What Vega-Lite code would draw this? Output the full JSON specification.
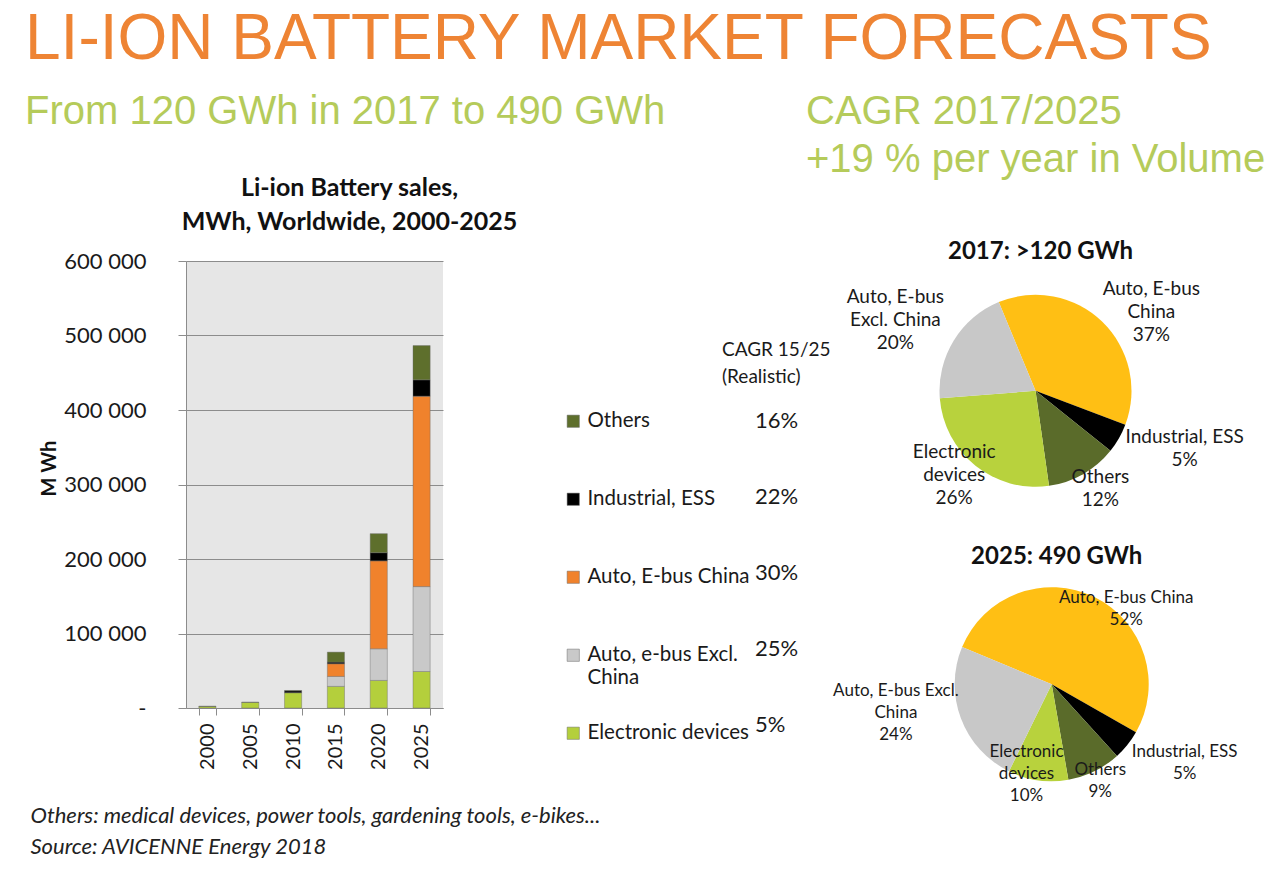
{
  "$schema": "https://vega.github.io/schema/vega-lite/v6.json",
  "background": "white",
  "padding": {"left": 25, "top": 8, "right": 5, "bottom": 5},
  "config": {
    "view": {"stroke": null},
    "font": "Lato",
    "axis": {"labelFont": "Lato", "titleFont": "Lato"},
    "legend": {"labelFont": "Lato", "titleFont": "Lato", "padding": 0}
  },
  "datasets": {
    "bars": [
      {"year": "2000", "category": "Electronic devices", "mwh": 2000, "k": 1},
      {"year": "2000", "category": "Others", "mwh": 500, "k": 5},
      {"year": "2005", "category": "Electronic devices", "mwh": 7500, "k": 1},
      {"year": "2005", "category": "Others", "mwh": 300, "k": 5},
      {"year": "2010", "category": "Electronic devices", "mwh": 20500, "k": 1},
      {"year": "2010", "category": "Industrial, ESS", "mwh": 2500, "k": 4},
      {"year": "2010", "category": "Others", "mwh": 500, "k": 5},
      {"year": "2015", "category": "Electronic devices", "mwh": 29000, "k": 1},
      {"year": "2015", "category": "Auto, e-bus Excl. China", "mwh": 13400, "k": 2},
      {"year": "2015", "category": "Auto, E-bus China", "mwh": 17000, "k": 3},
      {"year": "2015", "category": "Industrial, ESS", "mwh": 2200, "k": 4},
      {"year": "2015", "category": "Others", "mwh": 13400, "k": 5},
      {"year": "2020", "category": "Electronic devices", "mwh": 37000, "k": 1},
      {"year": "2020", "category": "Auto, e-bus Excl. China", "mwh": 42500, "k": 2},
      {"year": "2020", "category": "Auto, E-bus China", "mwh": 118000, "k": 3},
      {"year": "2020", "category": "Industrial, ESS", "mwh": 11000, "k": 4},
      {"year": "2020", "category": "Others", "mwh": 25500, "k": 5},
      {"year": "2025", "category": "Electronic devices", "mwh": 49000, "k": 1},
      {"year": "2025", "category": "Auto, e-bus Excl. China", "mwh": 114000, "k": 2},
      {"year": "2025", "category": "Auto, E-bus China", "mwh": 255500, "k": 3},
      {"year": "2025", "category": "Industrial, ESS", "mwh": 22000, "k": 4},
      {"year": "2025", "category": "Others", "mwh": 46000, "k": 5}
    ],
    "cagr": [
      {"category": "Others", "cagr": "16%"},
      {"category": "Industrial, ESS", "cagr": "22%"},
      {"category": "Auto, E-bus China", "cagr": "30%"},
      {"category": "Auto, e-bus Excl. China", "cagr": "25%"},
      {"category": "Electronic devices", "cagr": "5%"}
    ],
    "pie": [
      {"year": "2017", "category": "Auto, E-bus China", "pct": 37, "k": 1, "label": "Auto, E-bus\nChina\n37%"},
      {"year": "2017", "category": "Industrial, ESS", "pct": 5, "k": 2, "label": "Industrial, ESS\n5%"},
      {"year": "2017", "category": "Others", "pct": 12, "k": 3, "label": "Others\n12%"},
      {"year": "2017", "category": "Electronic devices", "pct": 26, "k": 4, "label": "Electronic\ndevices\n26%"},
      {"year": "2017", "category": "Auto, E-bus Excl. China", "pct": 20, "k": 5, "label": "Auto, E-bus\nExcl. China\n20%"},
      {"year": "2025", "category": "Auto, E-bus China", "pct": 52, "k": 1, "label": "Auto, E-bus China\n52%"},
      {"year": "2025", "category": "Industrial, ESS", "pct": 5, "k": 2, "label": "Industrial, ESS\n5%"},
      {"year": "2025", "category": "Others", "pct": 9, "k": 3, "label": "Others\n9%"},
      {"year": "2025", "category": "Electronic devices", "pct": 10, "k": 4, "label": "Electronic\ndevices\n10%"},
      {"year": "2025", "category": "Auto, E-bus Excl. China", "pct": 24, "k": 5, "label": "Auto, E-bus Excl.\nChina\n24%"}
    ],
    "pieTitles": [
      {"year": "2017", "title": "2017: >120 GWh"},
      {"year": "2025", "title": "2025: 490 GWh"}
    ]
  },
  "title": {
    "text": "LI-ION BATTERY MARKET FORECASTS",
    "subtitle": "From 120 GWh in 2017 to 490 GWh",
    "anchor": "start",
    "frame": "bounds",
    "font": "Liberation Sans",
    "fontSize": 64,
    "fontWeight": "normal",
    "color": "#EE8434",
    "subtitleFont": "Liberation Sans",
    "subtitleFontSize": 40,
    "subtitleColor": "#B5CB5A",
    "subtitlePadding": 20,
    "offset": -40,
    "dx": -5
  },
  "resolve": {"scale": {"color": "independent", "x": "independent", "y": "independent"}},
  "bounds": "flush",
  "spacing": 576.3,
  "hconcat": [
    {
      "width": 257,
      "height": 447,
      "view": {"fill": "#E6E6E6", "stroke": null},
      "title": {
        "text": ["Li-ion Battery sales,", "MWh, Worldwide, 2000-2025"],
        "frame": "group",
        "anchor": "middle",
        "dx": 35,
        "font": "Lato",
        "fontSize": 25,
        "fontWeight": "bold",
        "color": "#111111",
        "lineHeight": 34,
        "offset": 15
      },
      "layer": [
        {
          "data": {"name": "bars"},
          "mark": {"type": "bar", "stroke": "#6a6a6a", "strokeWidth": 0.6, "strokeOpacity": 0.7},
          "encoding": {
            "x": {
              "field": "year",
              "type": "ordinal",
              "scale": {"paddingInner": 0.6, "paddingOuter": 0.3},
              "axis": {
                "labelAngle": -90,
                "labelFontSize": 20,
                "labelColor": "#1a1a1a",
                "labelPadding": 8,
                "tickBand": "extent",
                "tickSize": 7,
                "tickColor": "#8c8c8c",
                "domainColor": "#8c8c8c",
                "title": ["Others: medical devices, power tools, gardening tools, e-bikes...", "Source: AVICENNE Energy 2018"],
                "titleFontSize": 22,
                "titleFontStyle": "italic",
                "titleFontWeight": "normal",
                "titleColor": "#222222",
                "titleAnchor": "start",
                "titleAlign": "left",
                "titleBaseline": "alphabetic",
                "titleX": -156,
                "titleY": 114,
                "titleLineHeight": 31
              }
            },
            "y": {
              "field": "mwh",
              "type": "quantitative",
              "stack": "zero",
              "scale": {"domain": [0, 600000]},
              "axis": {
                "values": [0, 100000, 200000, 300000, 400000, 500000, 600000],
                "labelExpr": "datum.value == 0 ? '-' : format(datum.value / 1000, 'd') + ' 000'",
                "labelFontSize": 22,
                "labelColor": "#1a1a1a",
                "labelPadding": 32,
                "tickSize": 8,
                "tickColor": "#8c8c8c",
                "domainColor": "#8c8c8c",
                "grid": true,
                "gridColor": "#8c8c8c",
                "gridWidth": 1,
                "title": "M Wh",
                "titleFontSize": 20,
                "titleFontWeight": "bold",
                "titleColor": "#111111",
                "titlePadding": 4,
                "titleY": 207
              }
            },
            "color": {
              "field": "category",
              "type": "nominal",
              "scale": {
                "domain": ["Others", "Industrial, ESS", "Auto, E-bus China", "Auto, e-bus Excl. China", "Electronic devices"],
                "range": ["#5E6F2C", "#000000", "#F0822C", "#C9C9C9", "#B4CF3C"]
              },
              "legend": {
                "orient": "none",
                "legendX": 377,
                "legendY": 150,
                "title": null,
                "padding": 0,
                "symbolType": "square",
                "symbolSize": 150,
                "symbolStrokeColor": "#6a6a6a",
                "symbolStrokeWidth": 0.5,
                "labelFontSize": 20.5,
                "labelColor": "#1a1a1a",
                "labelOffset": 4,
                "labelLimit": 300,
                "labelExpr": "datum.label == 'Auto, e-bus Excl. China' ? ['Auto, e-bus Excl.', 'China'] : datum.label",
                "gridAlign": "all",
                "rowPadding": 34
              }
            },
            "order": {"field": "k", "type": "quantitative"}
          }
        },
        {
          "data": {"name": "cagr"},
          "mark": {"type": "point", "opacity": 0},
          "encoding": {
            "shape": {
              "field": "cagr",
              "type": "nominal",
              "scale": {"domain": ["16%", "22%", "30%", "25%", "5%"]},
              "legend": {
                "orient": "none",
                "legendX": 536,
                "legendY": 80,
                "padding": 0,
                "title": ["CAGR 15/25", "(Realistic)"],
                "titleFontSize": 19,
                "titleFontWeight": "normal",
                "titleColor": "#1a1a1a",
                "titleLineHeight": 27,
                "titlePadding": 23,
                "symbolOpacity": 0,
                "symbolStrokeWidth": 0,
                "symbolSize": 100,
                "labelFontSize": 22,
                "labelColor": "#1a1a1a",
                "labelOffset": 11,
                "rowPadding": 54
              }
            }
          }
        }
      ]
    },
    {
      "width": 48.6,
      "height": 553,
      "title": {
        "text": ["CAGR 2017/2025", "+19 % per year in Volume"],
        "frame": "group",
        "anchor": "start",
        "dx": -213.3,
        "font": "Liberation Sans",
        "fontSize": 40,
        "fontWeight": "normal",
        "color": "#B5CB5A",
        "lineHeight": 48,
        "offset": 53
      },
      "resolve": {"scale": {"theta": "independent"}},
      "layer": [
        {
          "data": {"name": "pie"},
          "transform": [{"filter": "datum.year == '2017'"}],
          "mark": {"type": "arc", "radius": 96},
          "encoding": {
            "theta": {"field": "pct", "type": "quantitative", "stack": true, "scale": {"range": [-0.3927, 5.8905]}},
            "color": {
              "field": "category",
              "type": "nominal",
              "scale": {
                "domain": ["Auto, E-bus China", "Industrial, ESS", "Others", "Electronic devices", "Auto, E-bus Excl. China"],
                "range": ["#FFBF14", "#000000", "#5A6B2A", "#B8D23D", "#C8C8C8"]
              },
              "legend": null
            },
            "order": {"field": "k", "type": "quantitative"},
            "x": {"datum": "2017", "type": "ordinal", "scale": {"type": "point", "domain": ["2017", "2025"], "padding": 1}, "axis": null},
            "y": {"datum": "2017", "type": "ordinal", "scale": {"type": "point", "domain": ["2017", "2025"], "padding": 0.4424}, "axis": null}
          }
        },
        {
          "data": {"name": "pie"},
          "transform": [{"filter": "datum.year == '2025'"}],
          "mark": {"type": "arc", "radius": 97},
          "encoding": {
            "theta": {"field": "pct", "type": "quantitative", "stack": true, "scale": {"range": [-1.1781, 5.1051]}},
            "color": {"field": "category", "type": "nominal", "legend": null},
            "order": {"field": "k", "type": "quantitative"},
            "x": {"datum": "2025", "type": "ordinal"},
            "y": {"datum": "2025", "type": "ordinal"}
          }
        },
        {
          "data": {"name": "pie"},
          "transform": [{"filter": "datum.year == '2017'"}],
          "mark": {"type": "text", "radius": 140.6, "dx": 18, "dy": -1, "fontSize": 19, "lineHeight": 23, "lineBreak": "\n", "color": "#1a1a1a", "font": "Lato"},
          "encoding": {
            "theta": {"field": "pct", "type": "quantitative", "stack": true, "scale": {"range": [-0.3927, 5.8905]}},
            "detail": {"field": "category"},
            "order": {"field": "k", "type": "quantitative"},
            "x": {"datum": "2017", "type": "ordinal"},
            "y": {"datum": "2017", "type": "ordinal"},
            "text": {"condition": {"test": "datum.category == 'Auto, E-bus China'", "field": "label"}, "value": ""}
          }
        },
        {
          "data": {"name": "pie"},
          "transform": [{"filter": "datum.year == '2017'"}],
          "mark": {"type": "text", "radius": 160.2, "dx": 10, "dy": -33.5, "fontSize": 19, "lineHeight": 23, "lineBreak": "\n", "color": "#1a1a1a", "font": "Lato"},
          "encoding": {
            "theta": {"field": "pct", "type": "quantitative", "stack": true, "scale": {"range": [-0.3927, 5.8905]}},
            "detail": {"field": "category"},
            "order": {"field": "k", "type": "quantitative"},
            "x": {"datum": "2017", "type": "ordinal"},
            "y": {"datum": "2017", "type": "ordinal"},
            "text": {"condition": {"test": "datum.category == 'Industrial, ESS'", "field": "label"}, "value": ""}
          }
        },
        {
          "data": {"name": "pie"},
          "transform": [{"filter": "datum.year == '2017'"}],
          "mark": {"type": "text", "radius": 116.9, "dx": 7, "dy": -15.5, "fontSize": 19, "lineHeight": 23, "lineBreak": "\n", "color": "#1a1a1a", "font": "Lato"},
          "encoding": {
            "theta": {"field": "pct", "type": "quantitative", "stack": true, "scale": {"range": [-0.3927, 5.8905]}},
            "detail": {"field": "category"},
            "order": {"field": "k", "type": "quantitative"},
            "x": {"datum": "2017", "type": "ordinal"},
            "y": {"datum": "2017", "type": "ordinal"},
            "text": {"condition": {"test": "datum.category == 'Others'", "field": "label"}, "value": ""}
          }
        },
        {
          "data": {"name": "pie"},
          "transform": [{"filter": "datum.year == '2017'"}],
          "mark": {"type": "text", "radius": 117.2, "dx": -8, "dy": -30, "fontSize": 19, "lineHeight": 23, "lineBreak": "\n", "color": "#1a1a1a", "font": "Lato"},
          "encoding": {
            "theta": {"field": "pct", "type": "quantitative", "stack": true, "scale": {"range": [-0.3927, 5.8905]}},
            "detail": {"field": "category"},
            "order": {"field": "k", "type": "quantitative"},
            "x": {"datum": "2017", "type": "ordinal"},
            "y": {"datum": "2017", "type": "ordinal"},
            "text": {"condition": {"test": "datum.category == 'Electronic devices'", "field": "label"}, "value": ""}
          }
        },
        {
          "data": {"name": "pie"},
          "transform": [{"filter": "datum.year == '2017'"}],
          "mark": {"type": "text", "radius": 157.3, "dx": -6, "dy": -12, "fontSize": 19, "lineHeight": 23, "lineBreak": "\n", "color": "#1a1a1a", "font": "Lato"},
          "encoding": {
            "theta": {"field": "pct", "type": "quantitative", "stack": true, "scale": {"range": [-0.3927, 5.8905]}},
            "detail": {"field": "category"},
            "order": {"field": "k", "type": "quantitative"},
            "x": {"datum": "2017", "type": "ordinal"},
            "y": {"datum": "2017", "type": "ordinal"},
            "text": {"condition": {"test": "datum.category == 'Auto, E-bus Excl. China'", "field": "label"}, "value": ""}
          }
        },
        {
          "data": {"name": "pie"},
          "transform": [{"filter": "datum.year == '2025'"}],
          "mark": {"type": "text", "radius": 105.7, "dx": 28, "dy": 9, "fontSize": 17, "lineHeight": 22, "lineBreak": "\n", "color": "#1a1a1a", "font": "Lato"},
          "encoding": {
            "theta": {"field": "pct", "type": "quantitative", "stack": true, "scale": {"range": [-1.1781, 5.1051]}},
            "detail": {"field": "category"},
            "order": {"field": "k", "type": "quantitative"},
            "x": {"datum": "2025", "type": "ordinal"},
            "y": {"datum": "2025", "type": "ordinal"},
            "text": {"condition": {"test": "datum.category == 'Auto, E-bus China'", "field": "label"}, "value": ""}
          }
        },
        {
          "data": {"name": "pie"},
          "transform": [{"filter": "datum.year == '2025'"}],
          "mark": {"type": "text", "radius": 155, "dx": 12, "dy": -29, "fontSize": 17, "lineHeight": 22, "lineBreak": "\n", "color": "#1a1a1a", "font": "Lato"},
          "encoding": {
            "theta": {"field": "pct", "type": "quantitative", "stack": true, "scale": {"range": [-1.1781, 5.1051]}},
            "detail": {"field": "category"},
            "order": {"field": "k", "type": "quantitative"},
            "x": {"datum": "2025", "type": "ordinal"},
            "y": {"datum": "2025", "type": "ordinal"},
            "text": {"condition": {"test": "datum.category == 'Industrial, ESS'", "field": "label"}, "value": ""}
          }
        },
        {
          "data": {"name": "pie"},
          "transform": [{"filter": "datum.year == '2025'"}],
          "mark": {"type": "text", "radius": 108, "dx": 1, "dy": -11, "fontSize": 17, "lineHeight": 22, "lineBreak": "\n", "color": "#1a1a1a", "font": "Lato"},
          "encoding": {
            "theta": {"field": "pct", "type": "quantitative", "stack": true, "scale": {"range": [-1.1781, 5.1051]}},
            "detail": {"field": "category"},
            "order": {"field": "k", "type": "quantitative"},
            "x": {"datum": "2025", "type": "ordinal"},
            "y": {"datum": "2025", "type": "ordinal"},
            "text": {"condition": {"test": "datum.category == 'Others'", "field": "label"}, "value": ""}
          }
        },
        {
          "data": {"name": "pie"},
          "transform": [{"filter": "datum.year == '2025'"}],
          "mark": {"type": "text", "radius": 94, "dx": -12, "dy": -25, "fontSize": 17, "lineHeight": 22, "lineBreak": "\n", "color": "#1a1a1a", "font": "Lato"},
          "encoding": {
            "theta": {"field": "pct", "type": "quantitative", "stack": true, "scale": {"range": [-1.1781, 5.1051]}},
            "detail": {"field": "category"},
            "order": {"field": "k", "type": "quantitative"},
            "x": {"datum": "2025", "type": "ordinal"},
            "y": {"datum": "2025", "type": "ordinal"},
            "text": {"condition": {"test": "datum.category == 'Electronic devices'", "field": "label"}, "value": ""}
          }
        },
        {
          "data": {"name": "pie"},
          "transform": [{"filter": "datum.year == '2025'"}],
          "mark": {"type": "text", "radius": 158, "dx": -8, "dy": -49, "fontSize": 17, "lineHeight": 22, "lineBreak": "\n", "color": "#1a1a1a", "font": "Lato"},
          "encoding": {
            "theta": {"field": "pct", "type": "quantitative", "stack": true, "scale": {"range": [-1.1781, 5.1051]}},
            "detail": {"field": "category"},
            "order": {"field": "k", "type": "quantitative"},
            "x": {"datum": "2025", "type": "ordinal"},
            "y": {"datum": "2025", "type": "ordinal"},
            "text": {"condition": {"test": "datum.category == 'Auto, E-bus Excl. China'", "field": "label"}, "value": ""}
          }
        },
        {
          "data": {"name": "pieTitles"},
          "transform": [{"filter": "datum.year == '2017'"}],
          "mark": {"type": "text", "dx": 5, "dy": -139, "fontSize": 24, "fontWeight": "bold", "font": "Lato", "color": "#111111"},
          "encoding": {
            "x": {"field": "year", "type": "ordinal"},
            "y": {"field": "year", "type": "ordinal"},
            "text": {"field": "title"}
          }
        },
        {
          "data": {"name": "pieTitles"},
          "transform": [{"filter": "datum.year == '2025'"}],
          "mark": {"type": "text", "dx": 5, "dy": -127, "fontSize": 24, "fontWeight": "bold", "font": "Lato", "color": "#111111"},
          "encoding": {
            "x": {"field": "year", "type": "ordinal"},
            "y": {"field": "year", "type": "ordinal"},
            "text": {"field": "title"}
          }
        }
      ]
    }
  ]
}
